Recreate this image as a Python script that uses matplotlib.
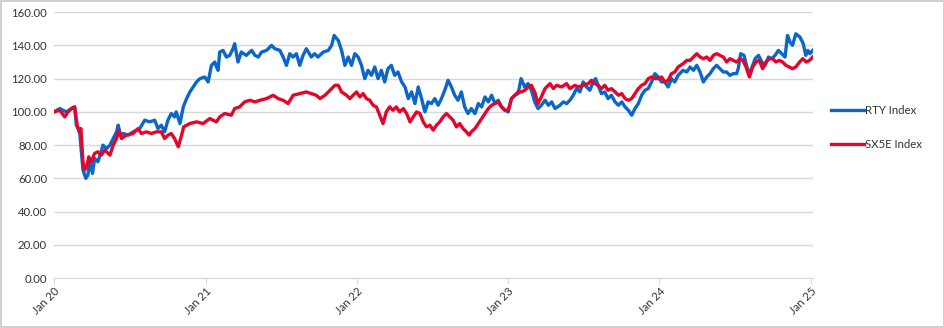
import numpy as np
import pandas as pd
import matplotlib
matplotlib.use('Agg')
import matplotlib.pyplot as plt
import matplotlib.dates as mdates
from matplotlib.ticker import FormatStrFormatter

plt.rcParams['font.family'] = ['Lato', 'DejaVu Sans']

##############################
########### Data #############
##############################
start = pd.Timestamp('2020-01-01')

# RTY Index, rebased to 100 (days since 1 Jan 2020, level)
rty_days = [0, 14, 30, 42, 50, 54, 62, 70, 77, 82, 86, 93, 98, 106, 114, 118, 127, 135, 143, 151,
            155, 160, 167, 179, 191, 207, 219, 231, 243, 251, 259, 267, 275, 283, 291, 295, 304, 312, 320, 328,
            336, 344, 352, 364, 372, 380, 388, 392, 396, 400, 408, 416, 424, 432, 436, 444, 452, 464, 477, 485,
            493, 501, 513, 525, 533, 545, 553, 561, 569, 577, 585, 593, 601, 609, 621, 629, 637, 650, 662, 670,
            676, 686, 694, 702, 710, 718, 726, 734, 742, 750, 758, 766, 774, 782, 790, 798, 806, 814, 822, 830,
            839, 847, 855, 863, 871, 879, 887, 895, 903, 911, 919, 927, 935, 943, 951, 959, 967, 975, 983, 991,
            999, 1007, 1016, 1024, 1032, 1040, 1048, 1056, 1064, 1072, 1080, 1088, 1096, 1104, 1112, 1120, 1127, 1136, 1144, 1152,
            1160, 1168, 1176, 1185, 1193, 1201, 1209, 1221, 1229, 1237, 1245, 1253, 1261, 1269, 1277, 1285, 1293, 1301, 1307, 1313,
            1321, 1329, 1337, 1345, 1354, 1362, 1370, 1378, 1386, 1394, 1402, 1410, 1418, 1426, 1434, 1442, 1450, 1458, 1466, 1474,
            1482, 1490, 1498, 1506, 1518, 1527, 1535, 1543, 1551, 1559, 1567, 1575, 1583, 1591, 1599, 1607, 1615, 1623, 1631, 1639,
            1647, 1651, 1657, 1665, 1671, 1678, 1683, 1692, 1700, 1708, 1716, 1724, 1732, 1740, 1748, 1756, 1764, 1770, 1776, 1782,
            1790, 1800, 1808, 1814, 1819, 1824, 1831]
rty_vals = [100, 102, 100, 102, 103, 92, 88, 65, 60, 62, 70, 63, 72, 70, 76, 80, 78, 80, 84, 88,
            92, 86, 87, 86, 88, 90, 95, 94, 95, 90, 92, 88, 95, 99, 97, 100, 93, 103, 108, 112,
            115, 118, 120, 121, 118, 128, 130, 127, 125, 136, 137, 133, 134, 138, 141, 130, 136, 134, 137, 134,
            133, 136, 137, 140, 138, 137, 133, 128, 135, 133, 135, 128, 134, 138, 133, 135, 133, 136, 137, 140,
            146, 143, 137, 128, 133, 128, 135, 133, 128, 120, 125, 122, 127, 120, 125, 118, 126, 128, 122, 124,
            118, 115, 108, 112, 105, 115, 108, 100, 106, 105, 108, 104, 108, 113, 119, 115, 110, 107, 112, 103,
            99, 102, 99, 105, 103, 109, 106, 110, 105, 107, 103, 101, 100, 108, 110, 111, 120, 115, 117, 113,
            106, 102, 104, 107, 104, 106, 102, 104, 106, 105, 107, 110, 114, 112, 118, 115, 113, 118, 120, 116,
            111, 112, 108, 110, 106, 104, 106, 103, 101, 98, 102, 105, 110, 113, 114, 118, 123, 121, 118, 118,
            115, 120, 118, 122, 125, 124, 127, 125, 128, 124, 118, 121, 123, 126, 128, 126, 124, 124, 122, 123,
            123, 126, 135, 134, 128, 122, 126, 132, 134, 130, 128, 133, 132, 134, 137, 135, 133, 146, 142, 140,
            147, 145, 141, 134, 137, 135, 137]

# SX5E Index, rebased to 100
sx5e_days = [0, 14, 26, 34, 42, 50, 56, 61, 65, 70, 74, 80, 84, 90, 98, 106, 114, 123, 135, 143,
             151, 157, 163, 175, 191, 203, 211, 223, 235, 247, 259, 267, 275, 283, 291, 300, 308, 313, 328, 344,
             360, 376, 392, 400, 412, 428, 436, 448, 460, 473, 485, 497, 513, 529, 541, 553, 565, 577, 593, 609,
             621, 633, 642, 654, 666, 678, 686, 694, 706, 714, 722, 730, 738, 746, 754, 762, 770, 778, 786, 794,
             802, 810, 818, 826, 834, 843, 851, 859, 867, 875, 883, 891, 899, 907, 915, 923, 931, 939, 947, 955,
             963, 971, 979, 987, 995, 1002, 1007, 1016, 1024, 1032, 1040, 1048, 1056, 1064, 1072, 1080, 1088, 1096, 1104, 1112,
             1120, 1128, 1136, 1144, 1152, 1160, 1168, 1176, 1185, 1197, 1205, 1213, 1225, 1237, 1245, 1257, 1265, 1277, 1289, 1297,
             1305, 1313, 1321, 1329, 1337, 1345, 1354, 1362, 1370, 1378, 1386, 1394, 1402, 1410, 1418, 1426, 1434, 1442, 1450, 1458,
             1466, 1474, 1482, 1490, 1498, 1506, 1518, 1527, 1535, 1543, 1551, 1559, 1567, 1575, 1583, 1591, 1599, 1607, 1615, 1623,
             1631, 1639, 1647, 1655, 1662, 1670, 1678, 1686, 1694, 1702, 1710, 1718, 1726, 1734, 1742, 1750, 1758, 1766, 1774, 1782,
             1790, 1799, 1807, 1815, 1823, 1831]
sx5e_vals = [100, 101, 97, 100, 102, 103, 92, 88, 90, 70, 65, 68, 73, 70, 75, 76, 74, 77, 74, 80,
             84, 89, 84, 86, 87, 90, 87, 88, 87, 88, 88, 84, 86, 87, 84, 79, 86, 91, 93, 94,
             93, 96, 94, 97, 99, 98, 102, 103, 106, 107, 106, 107, 108, 110, 108, 107, 105, 110, 111, 112,
             111, 110, 108, 110, 113, 116, 116, 112, 110, 108, 110, 112, 109, 111, 108, 107, 104, 103, 98, 93,
             100, 103, 101, 103, 100, 102, 99, 94, 97, 100, 99, 94, 91, 92, 89, 92, 94, 97, 99, 97,
             95, 91, 93, 90, 88, 86, 88, 90, 93, 96, 99, 102, 104, 105, 106, 103, 101, 101, 108, 110,
             112, 112, 113, 115, 116, 112, 105, 109, 114, 117, 114, 116, 115, 117, 114, 116, 115, 116, 117, 119,
             117, 116, 114, 116, 113, 114, 112, 110, 111, 108, 107, 108, 111, 114, 116, 117, 120, 121, 120, 120,
             121, 118, 119, 123, 124, 127, 129, 131, 131, 133, 135, 133, 132, 133, 131, 134, 135, 134, 133, 130,
             132, 131, 130, 132, 131, 127, 121, 127, 130, 131, 126, 130, 132, 132, 130, 131, 130, 128, 127, 126,
             127, 130, 132, 130, 131, 133]

series_names = ['RTY Index', 'SX5E Index']
series_colors = ['#0a66c8', '#e4062a']
year_ticks = ['2020', '2021', '2022', '2023', '2024', '2025']

rty_dates = start + pd.to_timedelta(rty_days, unit='D')
sx5e_dates = start + pd.to_timedelta(sx5e_days, unit='D')

##############################
########### Plot #############
##############################
fig = plt.figure(figsize=(9.45, 3.28), dpi=100)
fig.patch.set_edgecolor('#d0d0d0')
fig.patch.set_linewidth(1.5)
ax = fig.add_axes([0.0571, 0.152, 0.803, 0.811])

ax.plot(rty_dates, rty_vals, color=series_colors[0], lw=2.4, label=series_names[0], zorder=3)
ax.plot(sx5e_dates, sx5e_vals, color=series_colors[1], lw=2.4, label=series_names[1], zorder=4)

ax.set_ylim(0, 160)
ax.set_yticks(np.arange(0, 161, 20))
ax.yaxis.set_major_formatter(FormatStrFormatter('%.2f'))
ax.set_xlim(pd.Timestamp('2020-01-01'), pd.Timestamp('2025-01-05'))
ax.set_xticks(pd.to_datetime([y + '-01-01' for y in year_ticks]))
ax.xaxis.set_major_formatter(mdates.DateFormatter('%b %y'))

ax.grid(axis='y', color='#d9d9d9', lw=1)
ax.set_axisbelow(True)
for s in ['top', 'right', 'left']:
    ax.spines[s].set_visible(False)
ax.spines['bottom'].set_color('#d9d9d9')
ax.tick_params(axis='y', length=0, labelsize=8.2, labelcolor='#333333', pad=5)
ax.tick_params(axis='x', length=4, color='#d9d9d9', labelsize=8.2, labelcolor='#333333', pad=1)
plt.setp(ax.get_xticklabels(), rotation=45, ha='right', rotation_mode='anchor')

ax.legend(loc='center left', bbox_to_anchor=(1.01, 0.567), frameon=False, fontsize=8.2,
          labelspacing=2.0, handlelength=2.9, handletextpad=0.1, labelcolor='#333333')

plt.savefig('out.png', dpi=100)
